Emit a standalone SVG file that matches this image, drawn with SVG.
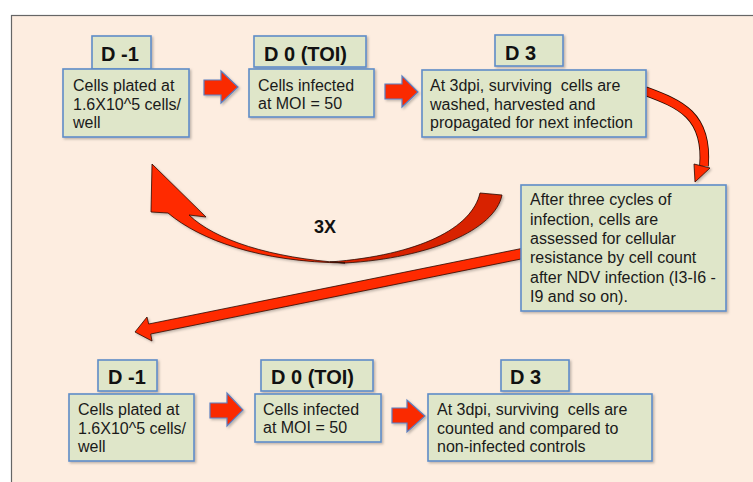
<svg xmlns="http://www.w3.org/2000/svg" width="753" height="482" viewBox="0 0 753 482">
<defs>
<filter id="sh" x="-20%" y="-20%" width="140%" height="140%">
<feDropShadow dx="1.5" dy="1.5" stdDeviation="1.2" flood-color="#000" flood-opacity="0.25"/>
</filter>
<style>
.box{fill:#DFE6C9;stroke:#5F8DC8;stroke-width:1.6;filter:url(#sh)}
.lbl{font-family:"Liberation Sans",Arial,sans-serif;font-weight:bold;font-size:20px;fill:#111}
.txt{font-family:"Liberation Sans",Arial,sans-serif;font-size:16px;fill:#1a1a1a}
.blk{fill:#FA2A05;stroke:#5B7FC0;stroke-width:1.2;filter:url(#sh)}
.red{fill:#FF2A00;stroke:#2a0a00;stroke-width:0.8;filter:url(#sh)}
.dark{fill:#D82200;stroke:#2a0a00;stroke-width:0.8;filter:url(#sh)}
</style>
</defs>
<rect x="0" y="0" width="753" height="482" fill="#fff"/>
<rect x="11.5" y="15.5" width="760" height="480" fill="#FDEDE0" stroke="#666" stroke-width="1.2"/>

<g id="connectors">
<polygon class="blk" points="204,80 221,80 221,71 238,87 221,103 221,95 204,95"/>
<polygon class="blk" points="385,84 402,84 402,76 418,92 402,107 402,99 385,99"/>
<polygon class="blk" points="210,403 227,403 227,393 243,410 227,426 227,418 210,418"/>
<polygon class="blk" points="392,408 407,408 407,400 425,416 407,432 407,423 392,423"/>
<path d="M645,91 C680,104 708,115 704,166" fill="none" stroke="#2a0a00" stroke-width="9.6"/>
<path d="M645,91 C680,104 708,115 704,166" fill="none" stroke="#FF2A00" stroke-width="8"/>
<polygon class="red" points="694,164 710,168 695,182"/>
<path class="dark" d="M345,263 C430,258 495,230 502,195 L480,193 C472,228 420,255 330,262 Z"/>
<path class="red" d="M151,212 L168,213 C200,240 260,262 345,263 C270,258 215,240 189,215 L206,217 L152,164 Z"/>
<polygon class="red" points="524,248 526,258 150.7,334 152,341 135,332 147,317 148.7,324"/>
</g>

<text x="325" y="233" class="lbl" font-size="18" text-anchor="middle" style="font-size:18px">3X</text>

<g id="top-d-1">
<rect class="box" x="92" y="36" width="59" height="33"/>
<text class="lbl" x="101" y="61">D -1</text>
<rect class="box" x="63" y="69" width="126" height="68"/>
<text class="txt" x="73" y="91">Cells plated at</text>
<text class="txt" x="73" y="109.5">1.6X10^5 cells/</text>
<text class="txt" x="73" y="128">well</text>
</g>
<g id="top-d0">
<rect class="box" x="254" y="36" width="112" height="31"/>
<text class="lbl" x="264" y="61">D 0 (TOI)</text>
<rect class="box" x="249" y="69" width="125" height="48"/>
<text class="txt" x="258" y="91">Cells infected</text>
<text class="txt" x="258" y="109">at MOI = 50</text>
</g>
<g id="top-d3">
<rect class="box" x="495" y="35" width="68" height="31"/>
<text class="lbl" x="505" y="60">D 3</text>
<rect class="box" x="422" y="70" width="224" height="67"/>
<text class="txt" x="430" y="91" xml:space="preserve">At 3dpi, surviving  cells are</text>
<text class="txt" x="430" y="110">washed, harvested and</text>
<text class="txt" x="430" y="128">propagated for next infection</text>
</g>
<g id="assess">
<rect class="box" x="521" y="185" width="205" height="126"/>
<text class="txt" x="530" y="205">After three cycles of</text>
<text class="txt" x="530" y="224.5">infection, cells are</text>
<text class="txt" x="530" y="244">assessed for cellular</text>
<text class="txt" x="530" y="263">resistance by cell count</text>
<text class="txt" x="530" y="282.5">after NDV infection (I3-I6 -</text>
<text class="txt" x="530" y="302">I9 and so on).</text>
</g>
<g id="bot-d-1">
<rect class="box" x="98" y="360" width="59" height="31"/>
<text class="lbl" x="108" y="384">D -1</text>
<rect class="box" x="69" y="394" width="125" height="67"/>
<text class="txt" x="78" y="415">Cells plated at</text>
<text class="txt" x="78" y="433.5">1.6X10^5 cells/</text>
<text class="txt" x="78" y="452">well</text>
</g>
<g id="bot-d0">
<rect class="box" x="261" y="360" width="112" height="31"/>
<text class="lbl" x="271" y="384">D 0 (TOI)</text>
<rect class="box" x="255" y="394" width="126" height="48"/>
<text class="txt" x="263" y="415">Cells infected</text>
<text class="txt" x="263" y="433">at MOI = 50</text>
</g>
<g id="bot-d3">
<rect class="box" x="501" y="360" width="68" height="31"/>
<text class="lbl" x="510" y="384">D 3</text>
<rect class="box" x="428" y="394" width="224" height="67"/>
<text class="txt" x="437" y="415" xml:space="preserve">At 3dpi, surviving  cells are</text>
<text class="txt" x="437" y="433.5">counted and compared to</text>
<text class="txt" x="437" y="452">non-infected controls</text>
</g>
</svg>
